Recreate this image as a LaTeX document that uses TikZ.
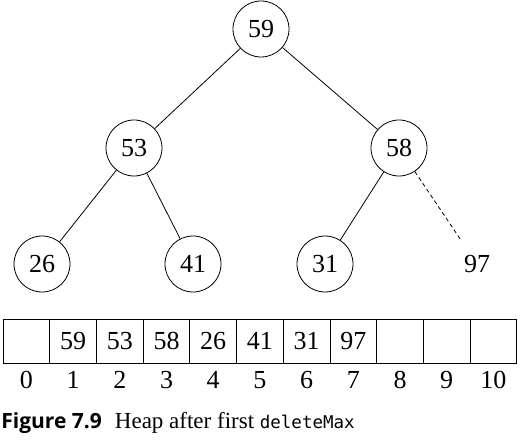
\documentclass[tikz,border=0pt]{standalone}
\usepackage{fontspec}
\setmainfont{Liberation Serif}
\newfontfamily\figfont{Open Sans}
\setmonofont{DejaVu Sans Mono}
\begin{document}
\begin{tikzpicture}[x=1pt,y=-1pt,line width=0.8pt,
    key/.style={circle,draw,minimum size=56pt,inner sep=0pt,font=\fontsize{26}{30}\selectfont},
    hole/.style={key,draw=none},
    cell/.style={draw,minimum width=46.7pt,minimum height=44pt,inner sep=0pt,font=\fontsize{26}{30}\selectfont},
    index/.style={inner sep=0pt,font=\fontsize{26}{30}\selectfont}]
      \useasboundingbox (0,0) rectangle (521,443);
      \draw
        (261,29) node[key] (1){59}
        (134,148) node[key] (2){53}
        (399,148) node[key] (3){58}
        (42,264) node[key] (4){26}
        (193,264) node[key] (5){41}
        (325,264) node[key] (6){31}
        (477,264) node[hole] (7){97};
      \begin{scope}[-]
        \draw (1) to (2);
        \draw (1) to (3);
        \draw (2) to (4);
        \draw (2) to (5);
        \draw (3) to (6);
        \draw[dash pattern=on 4pt off 3pt] (3) to (7);
      \end{scope}
      \draw
        (26.4,341) node[cell] (a0){}
        (73.1,341) node[cell] (a1){59}
        (119.8,341) node[cell] (a2){53}
        (166.5,341) node[cell] (a3){58}
        (213.2,341) node[cell] (a4){26}
        (259.9,341) node[cell] (a5){41}
        (306.6,341) node[cell] (a6){31}
        (353.3,341) node[cell] (a7){97}
        (400.0,341) node[cell] (a8){}
        (446.7,341) node[cell] (a9){}
        (493.4,341) node[cell] (a10){};
      \foreach \i in {0,...,10}
        \node[index] (i\i) at ([yshift=-39pt]a\i.center) {\i};
      \node[anchor=west,inner sep=0pt,font=\fontsize{23}{27}\selectfont] (caption) at (1,423)
        {{\figfont\fontsize{21}{25}\selectfont\bfseries Figure 7.9}\hspace{13pt}Heap after first {\fontsize{17.5}{20}\selectfont\ttfamily deleteMax}};
    \end{tikzpicture}
\end{document}
